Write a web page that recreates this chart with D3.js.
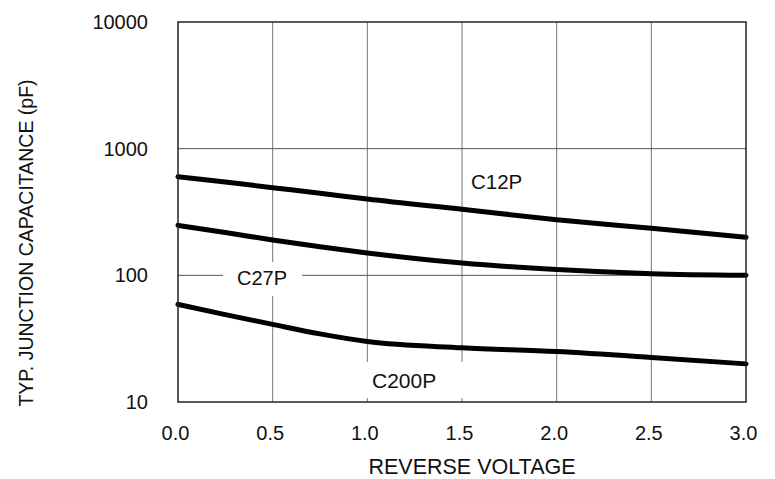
<!DOCTYPE html>
<html>
<head>
<meta charset="utf-8">
<script src="https://cdn.jsdelivr.net/npm/d3@7"></script>
<style>
  body { margin: 0; background: #fff; }
  text { font-family: Arial, "Liberation Sans", sans-serif; fill: #111; }
</style>
</head>
<body>
<div id="chart"></div>
<script>
// data
const voltage = [0, 0.25, 0.5, 0.75, 1.0, 1.5, 2.0, 2.5, 3.0];
const c12p = [600, 545, 492, 445, 400, 332, 275, 235, 200];
const c27p = [248, 218, 190, 168, 150, 125, 111, 103, 100];
const c200p = [59, 49, 41, 34.5, 30, 26.8, 25, 22.5, 20];
const xTicks = [0, 0.5, 1.0, 1.5, 2.0, 2.5, 3.0];
const yTicks = [10, 100, 1000, 10000];

let width = 775;
let height = 479;
let plotL = 178, plotR = 746, plotT = 22, plotB = 402;
let fontFam = "Arial, 'Liberation Sans', sans-serif";

let svg = d3.select("#chart").append("svg")
    .attr("width", width)
    .attr("height", height);

let xScale = d3.scaleLinear().domain([0, 3]).range([plotL, plotR]);
let yScale = d3.scaleLog().domain([10, 10000]).range([plotB, plotT]);

// grid
svg.append("g").selectAll("line").data(xTicks.slice(1, -1)).enter()
    .append("line")
    .attr("x1", d => xScale(d)).attr("x2", d => xScale(d))
    .attr("y1", plotT).attr("y2", plotB)
    .attr("stroke", "#777").attr("stroke-width", 1);
svg.append("g").selectAll("line").data(yTicks.slice(1, -1)).enter()
    .append("line")
    .attr("x1", plotL).attr("x2", plotR)
    .attr("y1", d => yScale(d)).attr("y2", d => yScale(d))
    .attr("stroke", "#555").attr("stroke-width", 1);

// white patches behind the labels
svg.append("rect").attr("x", 223).attr("y", 262).attr("width", 79).attr("height", 34).attr("fill", "#fff");
svg.append("rect").attr("x", 360).attr("y", 362).attr("width", 110).attr("height", 36).attr("fill", "#fff");

// curves
let line = d3.line()
    .x((d, i) => xScale(voltage[i]))
    .y(d => yScale(d))
    .curve(d3.curveMonotoneX);

[c12p, c27p, c200p].forEach(function(s) {
    svg.append("path")
        .attr("d", line(s))
        .attr("fill", "none")
        .attr("stroke", "#000")
        .attr("stroke-width", 5)
        .attr("stroke-linecap", "round");
});

// frame
svg.append("rect")
    .attr("x", plotL).attr("y", plotT)
    .attr("width", plotR - plotL).attr("height", plotB - plotT)
    .attr("fill", "none").attr("stroke", "#222").attr("stroke-width", 1.5);

// x axis labels
let xAxis = d3.axisBottom(xScale).tickValues(xTicks).tickSize(0).tickPadding(24)
    .tickFormat(d3.format(".1f"));
let gx = svg.append("g").attr("transform", "translate(0," + plotB + ")").call(xAxis);
gx.select(".domain").remove();
gx.selectAll("text").attr("font-size", 20).attr("font-family", fontFam).attr("fill", "#111").attr("dx", -3);

let yAxis = d3.axisLeft(yScale).tickValues(yTicks).tickSize(0).tickPadding(30)
    .tickFormat(d3.format("d"));
let gy = svg.append("g").attr("transform", "translate(" + plotL + ",0)").call(yAxis);
gy.select(".domain").remove();
gy.selectAll("text").attr("font-size", 20).attr("font-family", fontFam).attr("fill", "#111");

// titles
svg.append("text")
    .attr("x", 472)
    .attr("y", 474)
    .attr("text-anchor", "middle")
    .attr("font-size", 21.5)
    .text("REVERSE VOLTAGE");
svg.append("text")
    .attr("transform", "translate(33,243)rotate(-90)")
    .attr("text-anchor", "middle")
    .attr("font-size", 19.5)
    .text("TYP. JUNCTION CAPACITANCE (pF)");

// curve names
svg.append("text").attr("x", 471).attr("y", 189).attr("font-size", 20.5).text("C12P");
svg.append("text").attr("x", 237).attr("y", 285).attr("font-size", 20).text("C27P");
svg.append("text").attr("x", 372).attr("y", 388).attr("font-size", 21).text("C200P");
</script>
</body>
</html>
